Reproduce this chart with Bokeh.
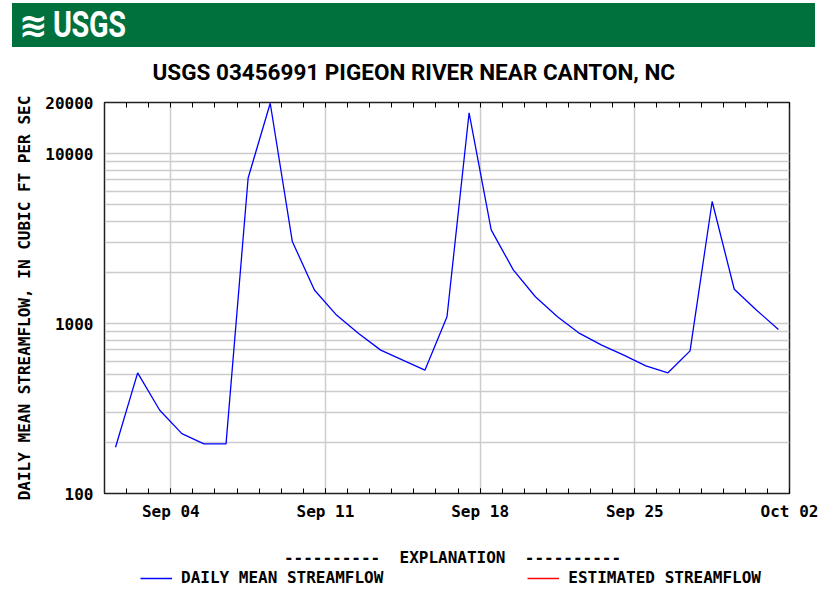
import pandas as pd
from bokeh.plotting import figure
from bokeh.models import (Range1d, FixedTicker, DatetimeTickFormatter, NumeralTickFormatter,
                          DatetimeAxis, Legend, LegendItem, Label, Div)
from bokeh.layouts import column
from bokeh.embed import file_html
from bokeh.resources import INLINE

# ---------------- data ----------------
banner_logo = "\u224b"
banner_text = "USGS"
station_title = "USGS 03456991 PIGEON RIVER NEAR CANTON, NC"
y_axis_title = "DAILY MEAN STREAMFLOW, IN CUBIC FT PER SEC"
explanation_text = "---------- \u00a0EXPLANATION \u00a0----------"
series_names = ["DAILY MEAN STREAMFLOW", "ESTIMATED STREAMFLOW"]
series_colors = ["#0000ff", "#ff0000"]

day_dates = pd.date_range("2023-09-01", "2023-10-01", freq="D")
daily_mean_flow = [187, 513, 309, 225, 196, 196, 7190, 19800, 3040, 1577, 1122,
                   875, 698, 609, 532, 1097, 17400, 3560, 2069, 1439, 1097, 875,
                   747, 652, 564, 513, 691, 5230, 1592, 1201, 924]
estimated_dates = ["2023-09-18"]
estimated_flow = [3560]

x_range_dates = ["2023-09-01", "2023-10-02"]
x_tick_dates = ["2023-09-04", "2023-09-11", "2023-09-18", "2023-09-25", "2023-10-02"]
y_range_vals = [100, 20000]
y_major_ticks = [100, 1000, 10000, 20000]
y_minor_ticks = [200, 300, 400, 500, 600, 700, 800, 900,
                 2000, 3000, 4000, 5000, 6000, 7000, 8000, 9000]

# ---------------- helpers ----------------
def ms(ts):
    return pd.Timestamp(ts).value / 1e6

mono = "DejaVu Sans Mono"
cond = "Roboto"
green = "#00703c"
grid_col = "#cccccc"
frame_col = "#222222"
noon = pd.Timedelta(hours=12)
W = 825
BL, BR = 104, 36

x_pts = day_dates + noon
est_pts = pd.to_datetime(estimated_dates) + noon
minor_days = pd.date_range(x_range_dates[0], x_range_dates[1], freq="D")
x_ticker = FixedTicker(ticks=[ms(d) for d in x_tick_dates],
                       minor_ticks=[ms(d) for d in minor_days])
top_ticker = FixedTicker(ticks=[], minor_ticks=[ms(d) for d in minor_days])
y_ticker = FixedTicker(ticks=y_major_ticks, minor_ticks=y_minor_ticks)
fmt = "%b %d"
date_fmt = DatetimeTickFormatter(days=fmt, months=fmt, hours=fmt, years=fmt,
                                 minutes=fmt, seconds=fmt, milliseconds=fmt,
                                 microseconds=fmt, minsec=fmt, hourmin=fmt)

# ---------------- banner ----------------
banner_html = (
    f'<div style="width:803px;height:44px;background:{green};display:flex;'
    f'align-items:center;box-sizing:border-box;padding-left:7px;color:white;'
    f'font-family:Roboto,sans-serif;font-weight:bold;overflow:hidden;">'
    f'<span style="font-family:DejaVu Sans,sans-serif;font-size:34px;line-height:44px;'
    f'display:inline-block;width:34px;">{banner_logo}</span>'
    f'<span style="font-size:36px;line-height:44px;display:inline-block;'
    f'transform:scaleX(0.8);transform-origin:left center;letter-spacing:-0.5px;">{banner_text}</span></div>'
)
banner = Div(text=banner_html, width=803, height=44, margin=(3, 0, -10, 12))

# ---------------- main plot ----------------
x_rng = Range1d(ms(x_range_dates[0]), ms(x_range_dates[1]))
y_rng = Range1d(*y_range_vals)
p = figure(width=W, height=493, x_axis_type="datetime", y_axis_type="log",
           x_range=x_rng, y_range=y_rng,
           output_backend="svg", toolbar_location=None,
           min_border_left=BL, min_border_right=BR, min_border_top=65,
           min_border_bottom=37, background_fill_color="white",
           border_fill_color=None, outline_line_color=frame_col,
           outline_line_width=1.5)

p.title.text = station_title
p.title.align = "left"
p.title.text_font = cond
p.title.text_font_size = "22.5px"
p.title.text_font_style = "bold"
p.title.text_color = "black"
p.title.offset = 48
p.title.standoff = 36

p.line(x_pts, daily_mean_flow, line_color=series_colors[0], line_width=1.3)
p.line(est_pts, estimated_flow, line_color=series_colors[1], line_width=1.3)

xa = p.xaxis[0]
xa.ticker = x_ticker
xa.formatter = date_fmt
xa.major_tick_in = 5
xa.major_tick_out = 0
xa.minor_tick_in = 5
xa.minor_tick_out = 0
xa.major_label_standoff = 8
xa.major_label_text_font = mono
xa.major_label_text_font_style = "bold"
xa.major_label_text_font_size = "16px"
xa.major_label_text_color = "black"
xa.axis_line_color = frame_col

top = DatetimeAxis(ticker=top_ticker, formatter=date_fmt,
                   major_tick_in=5, major_tick_out=0, minor_tick_in=5, minor_tick_out=0,
                   major_label_standoff=0, axis_line_color=frame_col)
p.add_layout(top, "above")

ya = p.yaxis[0]
ya.ticker = y_ticker
ya.formatter = NumeralTickFormatter(format="0")
ya.major_tick_in = 0
ya.major_tick_out = 0
ya.minor_tick_in = 0
ya.minor_tick_out = 0
ya.major_label_standoff = 11
ya.major_label_text_font = mono
ya.major_label_text_font_style = "bold"
ya.major_label_text_font_size = "16px"
ya.major_label_text_color = "black"
ya.axis_label = y_axis_title
ya.axis_label_text_font = mono
ya.axis_label_text_font_style = "bold"
ya.axis_label_text_font_size = "16px"
ya.axis_label_text_color = "black"
ya.axis_label_standoff = 8
ya.axis_line_color = frame_col

p.xgrid.grid_line_color = grid_col
p.xgrid.grid_line_width = 1.5
p.ygrid.grid_line_color = grid_col
p.ygrid.grid_line_width = 1.5
p.ygrid.minor_grid_line_color = grid_col
p.ygrid.minor_grid_line_width = 1.5

# ---------------- explanation / legend strip ----------------
LH = 61
leg = figure(width=W, height=LH, x_axis_type="datetime", y_axis_type="log",
             x_range=x_rng, y_range=y_rng,
             output_backend="svg", toolbar_location=None,
             min_border_left=BL, min_border_right=BR, min_border_top=0,
             min_border_bottom=0, x_axis_location=None, y_axis_location=None,
             background_fill_color="white", border_fill_color="white",
             outline_line_color=None)
leg.grid.visible = False
lr_mean = leg.line(x_pts, daily_mean_flow, line_color=series_colors[0],
                   line_width=1.3, visible=False)
lr_est = leg.line(est_pts, estimated_flow, line_color=series_colors[1],
                  line_width=1.3, visible=False)
leg.add_layout(Label(x=348, y=34, x_units="screen", y_units="screen",
                     text=explanation_text, text_align="center",
                     text_baseline="middle", text_font=mono, text_font_style="bold",
                     text_font_size="16px", text_color="black"))
legend = Legend(items=[LegendItem(label=series_names[0], renderers=[lr_mean]),
                       LegendItem(label=series_names[1], renderers=[lr_est])],
                orientation="horizontal", location=(36, 4),
                glyph_width=32, glyph_height=16, label_height=16,
                label_standoff=9, spacing=144, padding=0, margin=0,
                border_line_alpha=0, background_fill_alpha=0,
                label_text_font=mono, label_text_font_style="bold",
                label_text_font_size="16px", label_text_color="black")
leg.add_layout(legend, "center")

layout = column(banner, p, leg, spacing=0)
open("out.html", "w").write(file_html(layout, INLINE))
